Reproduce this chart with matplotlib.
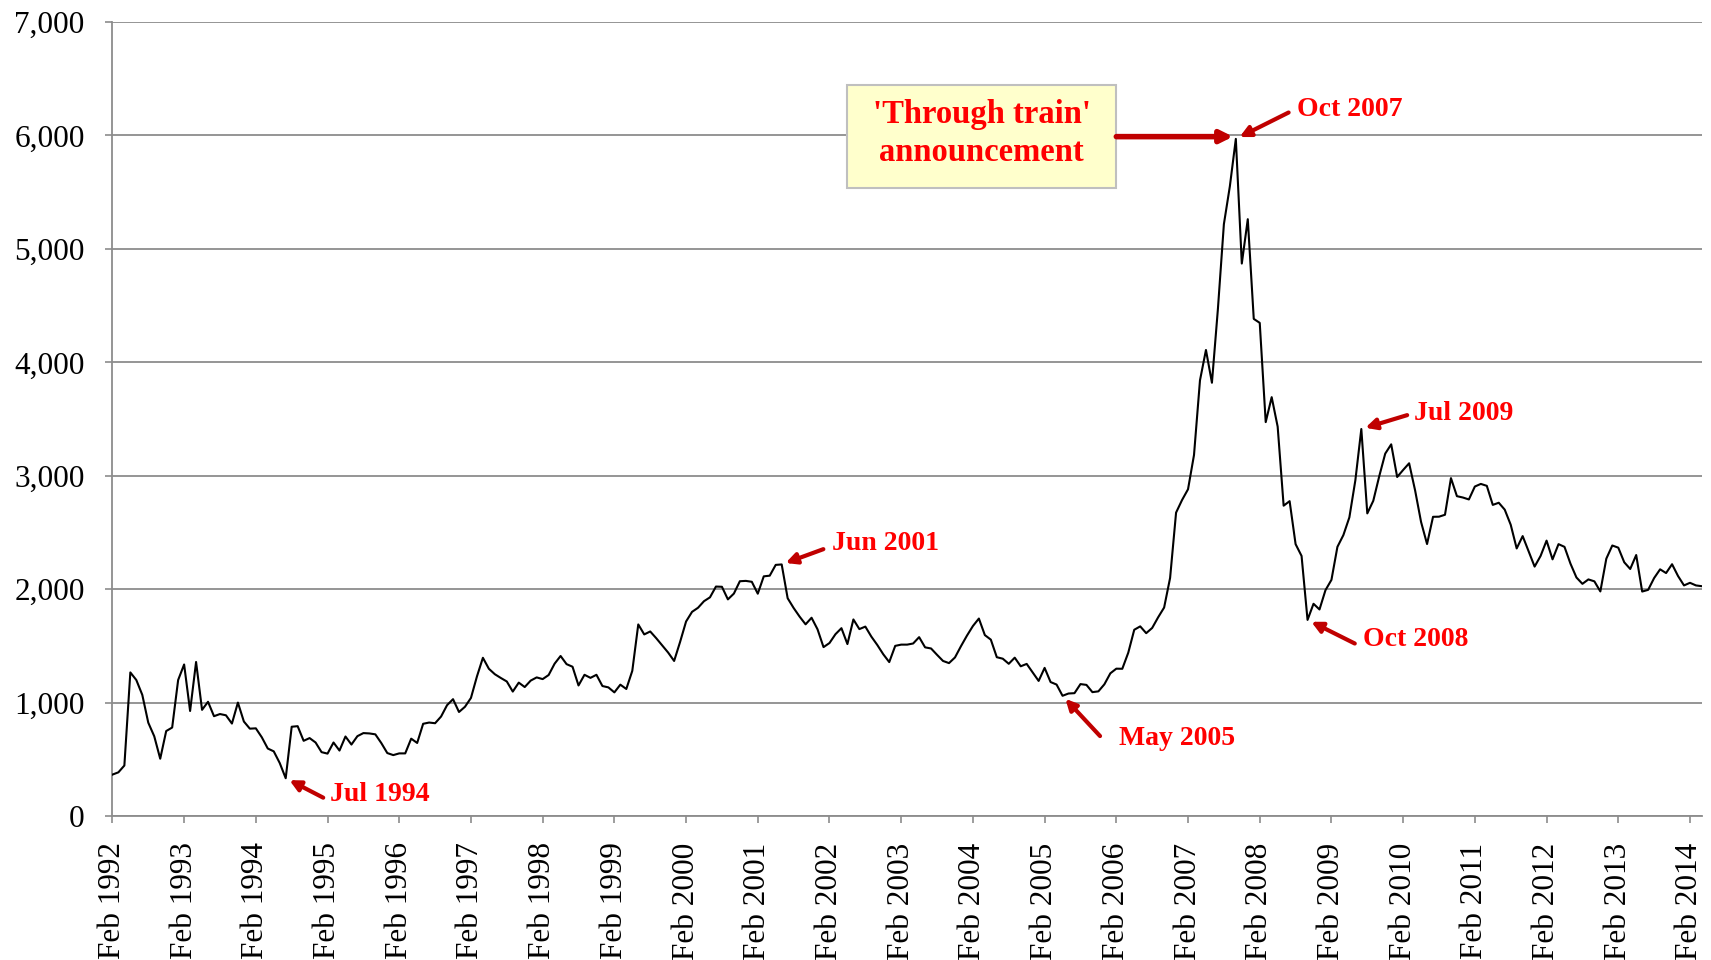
import matplotlib
matplotlib.use("Agg")
import matplotlib.pyplot as plt
from matplotlib.patches import Rectangle
from matplotlib.ticker import FuncFormatter, FixedLocator
import numpy as np
import pandas as pd

# ---- data (monthly index level, Feb 1992 - Apr 2014) ----
y1992 = [365, 385, 445, 1266, 1199, 1068, 823, 703, 505, 749, 780]
y1993 = [1199, 1336, 926, 1358, 936, 1007, 880, 899, 888, 815, 1000, 833]
y1994 = [770, 773, 694, 595, 570, 467, 333, 787, 792, 663, 687, 648]
y1995 = [563, 550, 648, 577, 701, 630, 704, 731, 728, 720, 643, 555]
y1996 = [537, 552, 552, 682, 644, 813, 824, 818, 877, 977, 1030, 917]
y1997 = [963, 1041, 1230, 1395, 1298, 1250, 1217, 1186, 1097, 1176, 1137, 1194]
y1998 = [1222, 1207, 1243, 1343, 1411, 1339, 1316, 1151, 1245, 1218, 1245, 1146]
y1999 = [1134, 1090, 1158, 1120, 1280, 1689, 1601, 1627, 1568, 1504, 1441, 1367]
y2000 = [1535, 1715, 1800, 1836, 1894, 1928, 2023, 2021, 1910, 1961, 2070, 2073]
y2001 = [2065, 1960, 2113, 2119, 2214, 2218, 1920, 1834, 1758, 1690, 1748, 1646]
y2002 = [1489, 1525, 1603, 1656, 1516, 1733, 1648, 1670, 1582, 1508, 1426, 1357]
y2003 = [1500, 1511, 1511, 1521, 1577, 1487, 1477, 1421, 1367, 1348, 1398, 1497]
y2004 = [1590, 1675, 1741, 1595, 1555, 1400, 1387, 1342, 1396, 1320, 1341, 1266]
y2005 = [1191, 1306, 1181, 1159, 1060, 1080, 1083, 1163, 1156, 1092, 1099, 1161]
y2006 = [1258, 1299, 1298, 1440, 1642, 1672, 1612, 1658, 1752, 1838, 2099, 2675]
y2007 = [2786, 2881, 3183, 3841, 4109, 3820, 4471, 5218, 5552, 5970, 4871, 5262]
y2008 = [4383, 4348, 3473, 3693, 3433, 2736, 2776, 2397, 2293, 1729, 1871, 1821]
y2009 = [1991, 2082, 2373, 2477, 2633, 2959, 3412, 2668, 2779, 2996, 3195, 3277]
y2010 = [2989, 3051, 3110, 2871, 2592, 2398, 2638, 2639, 2656, 2979, 2820, 2808]
y2011 = [2791, 2905, 2928, 2911, 2743, 2762, 2701, 2568, 2359, 2468, 2333, 2199]
y2012 = [2293, 2428, 2263, 2397, 2373, 2225, 2103, 2047, 2086, 2069, 1980, 2269]
y2013 = [2385, 2366, 2237, 2178, 2301, 1979, 1994, 2098, 2175, 2142, 2220, 2116]
y2014 = [2033, 2056, 2033, 2026]

values = (y1992 + y1993 + y1994 + y1995 + y1996 + y1997 + y1998 + y1999 + y2000
          + y2001 + y2002 + y2003 + y2004 + y2005 + y2006 + y2007 + y2008 + y2009
          + y2010 + y2011 + y2012 + y2013 + y2014)
dates = pd.date_range("1992-02-01", periods=len(values), freq="MS")
labels = [d.strftime("%b %Y") for d in dates]

events = [("Jul 1994", "1994-07"), ("Jun 2001", "2001-06"), ("May 2005", "2005-05"),
          ("Oct 2007", "2007-10"), ("Oct 2008", "2008-10"), ("Jul 2009", "2009-07")]

# ---- figure ----
plt.rcParams['font.family'] = ['Liberation Serif', 'DejaVu Serif']
fig = plt.figure(figsize=(17.11, 9.60), dpi=100)
ax = fig.add_axes([0.0657, 0.150, 0.929, 0.827])

x = np.arange(len(values))
ax.plot(x, values, color='black', lw=1.5, zorder=3)

ax.set_xlim(0, len(values) - 1)
ax.set_ylim(0, 7000)
ax.set_yticks(np.arange(0, 7001, 1000))
ax.yaxis.set_major_formatter(FuncFormatter(lambda v, p: f"{int(v):,}"))
ax.grid(axis='y', color='#8c8c8c', lw=1.3, zorder=1)
ax.set_axisbelow(True)

tick_idx = [i for i, d in enumerate(dates) if d.month == 2]
ax.xaxis.set_major_locator(FixedLocator(tick_idx))
ax.set_xticklabels([labels[i] for i in tick_idx], rotation=90)

for s in ['top', 'right']:
    ax.spines[s].set_visible(False)
for s in ['left', 'bottom']:
    ax.spines[s].set_color('#8c8c8c')
    ax.spines[s].set_linewidth(1.3)
ax.tick_params(axis='x', direction='out', length=5, width=1.2, color='#8c8c8c',
               labelsize=22.5, pad=14)
ax.tick_params(axis='y', direction='out', length=5, width=1.2, color='#8c8c8c',
               labelsize=22.5, pad=15)

arrow_color = '#C00000'
text_color = '#FF0000'

# offsets (points): arrow tail, text anchor
offsets = {
    "Jul 1994": ((27, -14), (32, -12)),
    "Jun 2001": ((30, 11), (36, 15)),
    "May 2005": ((27, -29), (41, -31)),
    "Oct 2007": ((38, 19), (44, 21)),
    "Oct 2008": ((34, -17), (40, -14)),
    "Jul 2009": ((33, 10), (38, 11)),
}
for label, ym in events:
    i = int(np.where(dates.strftime("%Y-%m") == ym)[0][0])
    v = values[i]
    tail, txt = offsets[label]
    ax.annotate('', xy=(i, v), xytext=tail, textcoords='offset points',
                arrowprops=dict(arrowstyle='-|>', color=arrow_color, lw=3,
                                mutation_scale=16, shrinkA=0, shrinkB=3),
                zorder=5)
    ax.annotate(label, xy=(i, v), xytext=txt, textcoords='offset points',
                ha='left', va='center', fontsize=20, fontweight='bold',
                color=text_color, zorder=5)

# 'Through train' box and arrow
box_x0, box_x1 = 123.0, 168.0
box_y0, box_y1 = 5538, 6442
ax.add_patch(Rectangle((box_x0, box_y0), box_x1 - box_x0, box_y1 - box_y0,
                       facecolor='#FFFFCC', edgecolor='#BFBFBF', lw=1.5, zorder=4))
ax.text((box_x0 + box_x1) / 2, (box_y0 + box_y1) / 2 + 30,
        "'Through train'\nannouncement", ha='center', va='center',
        fontsize=23.5, fontweight='bold', color=text_color, linespacing=1.3, zorder=5)
peak_i = int(np.argmax(values))
ax.annotate('', xy=(peak_i, 5990), xytext=(box_x1, 5990),
            arrowprops=dict(arrowstyle='-|>', color=arrow_color, lw=4,
                            mutation_scale=18, shrinkA=0, shrinkB=2),
            zorder=5)

fig.savefig("out.png", dpi=100)
